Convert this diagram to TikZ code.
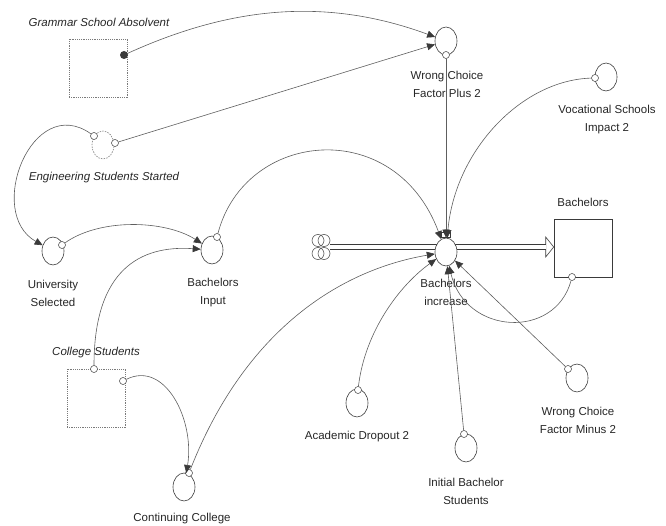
\documentclass[tikz,border=0pt]{standalone}
\usepackage{fontspec}
\setmainfont{Liberation Sans}
\usetikzlibrary{arrows.meta,shapes.geometric}
\definecolor{ink}{HTML}{3A3A3A}
\definecolor{wire}{HTML}{5E5E5E}
\definecolor{ghost}{HTML}{7A7A7A}
\definecolor{txt}{HTML}{262626}

\begin{document}
\begin{tikzpicture}[x=1pt,y=1pt,
  aux/.style={ellipse,draw=ink,line width=0.6pt,minimum width=22pt,minimum height=28pt,inner sep=0pt},
  ghostaux/.style={aux,draw=ghost,dash pattern=on 1.5pt off 1.2pt},
  org/.style={circle,draw=ink,line width=0.5pt,fill=white,minimum size=7pt,inner sep=0pt},
  stock/.style={rectangle,draw=ink,line width=0.6pt,minimum size=58pt,inner sep=0pt},
  ghoststock/.style={stock,draw=ghost,dash pattern=on 1.2pt off 1pt},
  lbl/.style={font=\fontsize{11.5}{18}\selectfont,text=txt,align=center,inner sep=0pt},
  ilbl/.style={lbl,font=\fontsize{11.5}{18}\selectfont\itshape},
  link/.style={draw=wire,line width=0.6pt,-{Triangle[length=8pt,width=7pt,color=ink]}},
  pipe/.style={draw=ink,line width=0.6pt,double=white,double distance=4pt},
  puff/.style={draw=ink,line width=0.5pt},
  ]
\useasboundingbox (0,0) rectangle (666,-526);

% ---- flow: source cloud -> Bachelors ----
\node[minimum width=18pt,minimum height=25pt,inner sep=0pt] (src) at (321,-247) {};
\foreach \dx/\dy in {-3/6.5,3/6.5,-3/-6.5,3/-6.5}
  \draw[puff] ([shift={(\dx,\dy)}]src.center) circle[radius=6];
\node[stock] (B) at (583,-248) {};
\node[lbl] (B-l) at (583,-202) {Bachelors};
\draw[ink,line width=0.6pt,fill=white] (src.east -| B.west) -- ++(-8,10) -- ++(0,-20) -- cycle;
\draw[pipe,shorten >=7.5pt] (src.east) -- (src.east -| B.west);

% ---- rate ----
\node[aux,fill=white] (binc) at (446,-252) {};
\node[draw=ink,fill=white,line width=0.5pt,minimum width=9pt,minimum height=5pt,inner sep=0pt,anchor=south] (valve) at (binc.north) {};
\node[lbl] (binc-l) at (446,-292.5) {Bachelors\\increase};

% ---- shadow variables ----
\node[ghoststock] (gsa) at (98,-68) {};
\node[ilbl] (gsa-l) at (99,-22) {Grammar School Absolvent};
\node[circle,fill=ink,minimum size=8pt,inner sep=0pt] (gsa-o) at (124,-55) {};

\node[ghostaux] (es) at (103,-145) {};
\node[org] (es-o1) at (94,-136) {};
\node[org] (es-o2) at (115,-143) {};
\node[ilbl] (es-l) at (104,-178) {Engineering Students Started};

\node[ghoststock] (cs) at (96,-398) {};
\node[ilbl] (cs-l) at (96,-353) {College Students};
\node[org] (cs-o1) at (94,-369) {};
\node[org] (cs-o2) at (123,-381) {};

% ---- auxiliaries ----
\node[aux] (wcfp) at (446,-41) {};
\node[org] (wcfp-o) at (446,-55) {};
\node[lbl] (wcfp-l) at (447,-84) {Wrong Choice\\Factor Plus 2};

\node[aux] (vsi) at (606,-77) {};
\node[org] (vsi-o) at (595,-78) {};
\node[lbl] (vsi-l) at (607,-119.5) {Vocational Schools\\Impact 2};

\node[aux] (us) at (53,-251) {};
\node[org] (us-o) at (62,-245) {};
\node[lbl] (us-l) at (53,-293.5) {University\\Selected};

\node[aux] (bi) at (212,-250) {};
\node[org] (bi-o) at (217,-237) {};
\node[lbl] (bi-l) at (213,-292.5) {Bachelors\\Input};

\node[aux] (cc) at (184,-487) {};
\node[org] (cc-o) at (189,-473) {};
\node[lbl] (cc-l) at (182,-519) {Continuing College};

\node[aux] (ad) at (357,-403) {};
\node[org] (ad-o) at (358,-390) {};
\node[lbl] (ad-l) at (357,-437) {Academic Dropout 2};

\node[aux] (ibs) at (466,-448) {};
\node[org] (ibs-o) at (464,-434) {};
\node[lbl] (ibs-l) at (466,-491) {Initial Bachelor\\Students};

\node[aux] (wcfm) at (577,-378) {};
\node[org] (wcfm-o) at (568,-369) {};
\node[lbl] (wcfm-l) at (578,-420) {Wrong Choice\\Factor Minus 2};

\node[org] (b-o) at (572,-277) {};

% ---- causal links ----
\draw[link] (gsa-o) .. controls +(110,50) and +(-117,43) .. (wcfp);
\draw[link] (es-o2) -- (wcfp);
\draw[link] (es-o1) .. controls +(-62,44) and +(-68,38) .. (us);
\draw[link] (us-o) .. controls +(38,27) and +(-47,30) .. (bi);
\draw[link] (cs-o1) .. controls +(0,99) and +(-72,5) .. (bi);
\draw[link] (bi-o) .. controls +(28,107) and +(-51,137) .. (binc);
\draw[link] (vsi-o) .. controls +(-73,-2) and +(9,102) .. (binc);
\draw[link] (wcfp-o) -- (binc);
\draw[link] (cc-o) .. controls +(56,143) and +(-106,-18) .. (binc);
\draw[link] (ad-o) .. controls +(7,59) and +(-46,-33) .. (binc);
\draw[link] (ibs-o) -- (binc);
\draw[link] (wcfm-o) -- (binc);
\draw[link] (b-o) .. controls +(-17,-63) and +(19,-83) .. (binc);
\draw[link] (cs-o2) .. controls +(42,21) and +(11,67) .. (cc);
\end{tikzpicture}
\end{document}
